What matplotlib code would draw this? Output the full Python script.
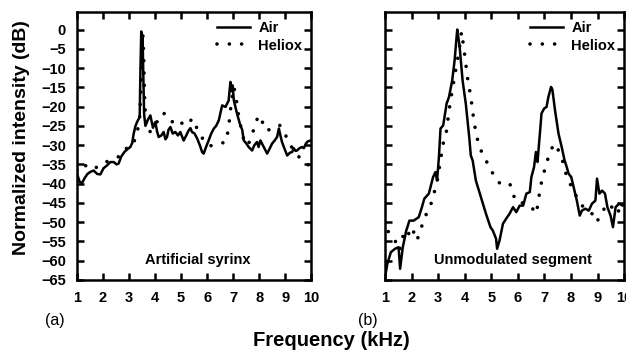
# spectra of artificial syrinx vs unmodulated segment, air vs heliox

import matplotlib
matplotlib.use("Agg")
import matplotlib.pyplot as plt

plt.rcParams['font.family'] = ['Liberation Sans', 'DejaVu Sans']

# (a) artificial syrinx
air_a_khz = [1.00, 1.10, 1.19, 1.30, 1.40, 1.50, 1.64, 1.78, 1.90, 2.02, 2.15, 2.28, 2.41, 2.52, 2.60,
             2.70, 2.82, 2.95, 3.05, 3.12, 3.18, 3.25, 3.31, 3.41, 3.44, 3.47, 3.50, 3.52, 3.55, 3.58,
             3.63, 3.72, 3.82, 3.92, 4.01, 4.08, 4.14, 4.24, 4.33, 4.40, 4.46, 4.52, 4.59, 4.68, 4.78,
             4.88, 4.97, 5.10, 5.20, 5.29, 5.36, 5.42, 5.52, 5.62, 5.72, 5.81, 5.87, 5.96, 6.06, 6.16,
             6.26, 6.35, 6.45, 6.52, 6.58, 6.71, 6.83, 6.87, 6.90, 6.94, 6.98, 7.03, 7.15, 7.28, 7.35,
             7.41, 7.50, 7.60, 7.73, 7.82, 7.92, 7.98, 8.05, 8.18, 8.31, 8.40, 8.50, 8.60, 8.69, 8.76,
             8.82, 8.88, 8.98, 9.08, 9.18, 9.27, 9.33, 9.40, 9.46, 9.55, 9.65, 9.72, 9.80, 9.88, 10.0]
air_a_db = [-37.4, -39.5, -39.9, -38.5, -37.5, -37.0, -36.6, -37.5, -37.6, -36.0, -35.3, -34.4, -34.4, -35.0, -34.8,
            -33.0, -31.8, -31.0, -30.5, -29.5, -27.0, -25.0, -24.0, -22.7, -10.0, -0.5, -6.0, -1.5, -12.0, -22.0,
            -25.0, -23.5, -22.3, -25.5, -24.0, -26.5, -27.9, -27.5, -26.6, -28.5, -27.9, -26.0, -25.3, -27.0, -26.6,
            -27.5, -26.6, -28.8, -27.5, -26.2, -25.6, -26.6, -27.0, -28.3, -30.0, -31.8, -32.2, -30.5, -28.8, -27.0,
            -25.7, -25.0, -23.6, -21.5, -19.7, -20.1, -18.4, -15.5, -13.6, -16.0, -14.5, -18.4, -21.8, -24.9, -26.0,
            -28.8, -29.5, -30.5, -31.4, -30.0, -29.2, -30.5, -28.8, -30.5, -32.2, -31.0, -29.6, -28.8, -27.9, -25.7,
            -27.5, -29.2, -31.0, -32.7, -32.0, -31.8, -30.8, -31.5, -31.4, -30.8, -30.5, -30.8, -29.6, -29.0, -28.8]

hel_a_khz = [1.00, 1.08, 1.20, 1.30, 1.45, 1.60, 1.75, 1.90, 2.05, 2.28, 2.45, 2.60, 2.80, 2.95, 3.10,
             3.20, 3.31, 3.40, 3.46, 3.50, 3.53, 3.56, 3.60, 3.66, 3.76, 3.88, 4.00, 4.15, 4.33, 4.50,
             4.65, 4.78, 4.94, 5.10, 5.30, 5.46, 5.60, 5.80, 6.00, 6.20, 6.38, 6.55, 6.73, 6.83, 6.93,
             7.03, 7.12, 7.22, 7.35, 7.47, 7.60, 7.73, 7.83, 7.95, 8.05, 8.15, 8.24, 8.40, 8.63, 8.80,
             8.95, 9.08, 9.25, 9.45, 9.60, 9.72, 9.85, 10.0]
hel_a_db = [-36.5, -35.5, -35.0, -35.5, -34.8, -35.5, -35.8, -35.3, -34.5, -34.0, -33.5, -33.0, -31.0, -30.8, -30.5,
            -29.0, -26.6, -24.0, -15.0, -5.0, -1.0, -6.0, -18.0, -26.0, -26.6, -26.3, -25.0, -23.0, -21.6, -23.5,
            -24.0, -23.3, -23.4, -25.0, -24.0, -23.1, -25.5, -28.0, -30.0, -30.2, -29.9, -29.5, -29.2, -25.3, -19.0,
            -14.9, -18.0, -22.7, -27.0, -30.0, -29.5, -27.9, -24.4, -23.0, -22.3, -24.5, -26.2, -26.0, -24.9, -24.9,
            -26.5, -28.3, -30.5, -32.5, -33.5, -34.4, -35.0, -35.5]

# (b) unmodulated segment
air_b_khz = [1.00, 1.09, 1.22, 1.38, 1.51, 1.57, 1.67, 1.80, 1.92, 2.08, 2.27, 2.39, 2.48, 2.65, 2.81,
             2.90, 2.96, 3.03, 3.09, 3.19, 3.32, 3.41, 3.53, 3.62, 3.70, 3.72, 3.81, 3.92, 4.04, 4.17,
             4.23, 4.30, 4.42, 4.61, 4.80, 4.97, 5.06, 5.18, 5.22, 5.31, 5.44, 5.56, 5.69, 5.82, 5.94,
             6.07, 6.20, 6.32, 6.45, 6.51, 6.61, 6.68, 6.74, 6.83, 6.89, 6.99, 7.08, 7.15, 7.25, 7.30,
             7.40, 7.53, 7.65, 7.76, 7.84, 7.91, 8.01, 8.10, 8.22, 8.33, 8.41, 8.54, 8.67, 8.79, 8.92,
             8.98, 9.07, 9.17, 9.28, 9.37, 9.49, 9.58, 9.68, 9.81, 9.94, 10.0]
air_b_db = [-64.3, -60.8, -57.8, -56.9, -56.5, -62.1, -56.5, -52.2, -49.6, -49.6, -48.7, -46.1, -43.9, -42.6, -38.3,
            -37.0, -39.2, -33.1, -25.7, -24.9, -19.2, -17.5, -13.2, -8.0, -1.5, 0.0, -4.5, -13.2, -19.2, -27.9,
            -32.7, -34.0, -39.2, -43.5, -47.8, -51.3, -52.2, -54.3, -56.9, -54.8, -50.4, -49.1, -47.8, -46.1, -47.4,
            -45.7, -45.7, -42.6, -42.2, -38.3, -35.7, -31.8, -34.4, -27.0, -21.8, -20.5, -20.1, -17.5, -14.9, -15.6,
            -21.0, -27.0, -30.5, -34.0, -35.7, -37.4, -38.3, -40.9, -44.4, -48.3, -47.0, -46.5, -47.0, -45.2, -44.4,
            -38.7, -42.6, -41.8, -42.6, -46.1, -48.3, -51.3, -46.1, -45.2, -45.7, -45.5]

hel_b_khz = [1.00, 1.09, 1.20, 1.38, 1.55, 1.70, 1.82, 2.01, 2.20, 2.52, 2.65, 2.77, 2.96, 3.07, 3.19,
             3.32, 3.41, 3.53, 3.66, 3.79, 3.88, 3.98, 4.10, 4.23, 4.36, 4.49, 4.68, 4.87, 5.06, 5.25,
             5.37, 5.52, 5.69, 5.82, 5.88, 6.07, 6.26, 6.51, 6.70, 6.79, 6.89, 7.02, 7.15, 7.27, 7.40,
             7.53, 7.72, 7.84, 8.03, 8.22, 8.41, 8.60, 8.79, 8.98, 9.11, 9.30, 9.49, 9.62, 9.81, 10.0]
hel_b_db = [-55.0, -52.2, -53.0, -54.8, -57.4, -53.0, -54.0, -51.3, -54.8, -48.3, -47.0, -44.4, -39.6, -34.8, -29.6,
            -26.2, -21.0, -15.8, -10.6, -5.4, -0.6, -5.4, -12.3, -17.5, -24.4, -28.8, -32.7, -34.8, -37.4, -39.6,
            -40.0, -39.6, -40.0, -41.8, -44.4, -44.8, -45.2, -46.1, -47.8, -43.5, -39.6, -36.1, -33.1, -30.9, -29.6,
            -31.4, -34.8, -38.3, -40.9, -43.5, -45.7, -46.5, -47.8, -50.0, -47.8, -46.1, -45.2, -47.8, -47.0, -47.0]

x_ticks = list(range(1, 11))
y_ticks = list(range(0, -66, -5))

fig = plt.figure(figsize=(6.26, 3.58), dpi=100)
ax_a = fig.add_axes([0.123, 0.218, 0.374, 0.748])
ax_b = fig.add_axes([0.615, 0.218, 0.382, 0.748])

dot_style = dict(color='black', lw=2.6, linestyle=(0, (0.01, 3.4)), dash_capstyle='round')

panels = [
    (ax_a, air_a_khz, air_a_db, hel_a_khz, hel_a_db, 'Artificial syrinx', 0.517),
    (ax_b, air_b_khz, air_b_db, hel_b_khz, hel_b_db, 'Unmodulated segment', 0.536),
]
for ax, ax_x, ax_y, hx, hy, name, tx in panels:
    ax.plot(ax_x, ax_y, color='black', lw=1.8, label='Air')
    ax.plot(hx, hy, label='Heliox', **dot_style)
    ax.set_xlim(1, 10)
    ax.set_ylim(-65, 4.5)
    ax.set_xticks(x_ticks)
    ax.set_yticks(y_ticks)
    ax.tick_params(direction='in', length=5, width=1.8, top=True, right=True,
                   labelsize=10.5)
    ax.tick_params(axis='x', pad=8)
    ax.tick_params(axis='y', pad=8)
    for lab in ax.get_xticklabels() + ax.get_yticklabels():
        lab.set_fontweight('bold')
    for sp in ax.spines.values():
        sp.set_linewidth(1.8)
    ax.text(tx, 0.075, name, transform=ax.transAxes, ha='center', va='center',
            fontsize=10.5, fontweight='bold')
    ax.legend(loc='upper right', frameon=False, handlelength=2.3, handletextpad=0.55,
              borderaxespad=0.2, labelspacing=0.25, prop={'weight': 'bold', 'size': 10.5})

ax_b.tick_params(labelleft=False)

fig.text(0.034, 0.617, 'Normalized intensity (dB)', rotation=90, ha='center', va='center',
         fontsize=14, fontweight='bold')
fig.text(0.529, 0.05, 'Frequency (kHz)', ha='center', va='center', fontsize=14.5, fontweight='bold')
fig.text(0.088, 0.106, '(a)', ha='center', va='center', fontsize=11.5)
fig.text(0.588, 0.106, '(b)', ha='center', va='center', fontsize=11.5)

fig.savefig('out.png', dpi=100)
